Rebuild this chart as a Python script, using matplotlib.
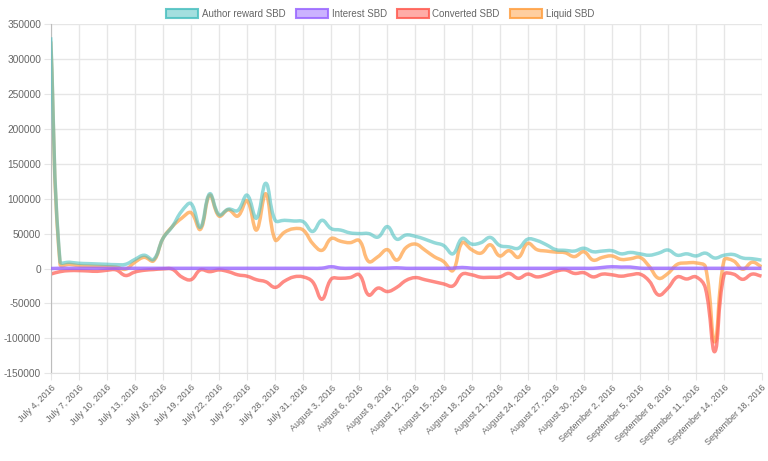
import numpy as np
import pandas as pd
import matplotlib
matplotlib.use('Agg')
import matplotlib.pyplot as plt
from matplotlib.path import Path
from matplotlib.patches import PathPatch, Patch

plt.rcParams['font.family'] = ['Liberation Sans', 'DejaVu Sans']

# daily categories
dates = pd.date_range('2016-07-04', '2016-09-18')
labels = [f"{d.strftime('%B')} {d.day}, {d.year}" for d in dates]

author_reward = [
    331000, 10000, 9000, 7500, 7000, 6500, 6000, 5500, 6000, 13000,
    19000, 13000, 43000, 60000, 82000, 93000, 59000, 107000, 77000, 85000,
    83000, 105000, 72000, 122000, 69000, 69000, 68000, 67000, 53000, 69000,
    57000, 55000, 51000, 50000, 50000, 45000, 60000, 42000, 48000, 46000,
    42000, 37000, 33000, 21000, 43000, 35000, 37000, 44500, 33000, 31000,
    29000, 42000, 40000, 34000, 27000, 26000, 25000, 29000, 24000, 25000,
    25500, 21000, 23000, 21000, 19000, 22000, 26500, 19000, 21000, 18000,
    22000, 15000, 19000, 20000, 15000, 14000, 12000,
]
interest = [
    0, 300, 300, 300, 300, 300, 300, 300, 300, 300,
    300, 300, 300, 300, 300, 300, 300, 300, 300, 300,
    300, 300, 300, 300, 300, 300, 300, 300, 300, 500,
    2500, 500, 300, 300, 300, 300, 500, 1000, 300, 300,
    300, 300, 300, 500, 1500, 500, 300, 300, 300, 300,
    300, 300, 300, 300, 300, 300, 300, 300, 300, 1500,
    2500, 2000, 2000, 500, 300, 300, 300, 300, 300, 300,
    300, 300, 300, 300, 300, 300, 300,
]
converted = [
    -8000, -4500, -3000, -3000, -3500, -4000, -2500, -2000, -10000, -5000,
    -2500, -1500, -500, -1000, -12000, -16000, -2000, -4500, -2000, -4500,
    -9000, -11000, -16000, -19000, -27000, -18000, -12000, -12000, -19000, -44000,
    -15000, -14000, -13000, -9000, -38000, -28000, -33000, -27000, -17000, -13000,
    -16000, -19000, -22000, -25000, -8000, -9000, -12500, -12500, -12000, -7000,
    -14000, -8000, -12000, -9000, -4000, -2000, -7000, -6000, -12000, -8000,
    -9000, -11000, -9000, -8000, -18000, -38000, -28000, -12000, -15000, -12000,
    -28000, -119000, -9000, -8000, -15500, -8000, -11000,
]
liquid = [
    325000, 6000, 6000, 4000, 3500, 3000, 2500, 2000, -1000, 9000,
    16000, 11000, 43000, 60000, 72000, 80000, 56000, 105000, 75000, 84000,
    75000, 97000, 55000, 107000, 41000, 52000, 57000, 55000, 36000, 26000,
    43000, 39000, 37000, 40000, 10000, 17000, 27000, 12000, 30000, 35000,
    26500, 17000, 10000, -3000, 37000, 27000, 22000, 34000, 18000, 25500,
    16000, 36000, 27000, 25000, 23500, 22600, 17000, 24000, 12000, 16000,
    18000, 13000, 14000, 16000, 3000, -14000, -7000, 6000, 8000, 8000,
    2500, -105000, 12000, 11000, -1000, 9000, 2500,
]

series = [
    ('Author reward SBD', author_reward, (75/255, 192/255, 192/255), 0.6, 4),
    ('Interest SBD', interest, (153/255, 102/255, 255/255), 0.8, 3),
    ('Converted SBD', converted, (255/255, 90/255, 80/255), 0.7, 2),
    ('Liquid SBD', liquid, (255/255, 159/255, 64/255), 0.7, 1),
]


def spline_path(y, sx=9.34, sy=0.000698, t=0.4):
    # cubic bezier through the points, like chart.js tension 0.4
    px = np.arange(len(y), dtype=float) * sx
    py = np.asarray(y, dtype=float) * sy
    n = len(px)
    cp_prev = np.zeros((n, 2))
    cp_next = np.zeros((n, 2))
    for i in range(n):
        a, c = max(i - 1, 0), min(i + 1, n - 1)
        d01 = np.hypot(px[i] - px[a], py[i] - py[a])
        d12 = np.hypot(px[c] - px[i], py[c] - py[i])
        tot = d01 + d12
        s01 = d01 / tot if tot else 0
        s12 = d12 / tot if tot else 0
        dx, dy = px[c] - px[a], py[c] - py[a]
        cp_prev[i] = (px[i] - t * s01 * dx, py[i] - t * s01 * dy)
        cp_next[i] = (px[i] + t * s12 * dx, py[i] + t * s12 * dy)
    verts = [(px[0], py[0])]
    codes = [Path.MOVETO]
    for i in range(n - 1):
        verts += [tuple(cp_next[i]), tuple(cp_prev[i + 1]), (px[i + 1], py[i + 1])]
        codes += [Path.CURVE4] * 3
    verts = np.array(verts)
    verts[:, 0] /= sx
    verts[:, 1] /= sy
    return Path(verts, codes)


fig = plt.figure(figsize=(7.68, 4.61), dpi=100)
ax = fig.add_axes([50.7 / 768, 1 - 373.3 / 461, (761.5 - 50.7) / 768, (373.3 - 24) / 461])

handles = []
for name, vals, col, alpha, z in series:
    ax.add_patch(PathPatch(spline_path(vals), fill=False, edgecolor=col + (alpha,),
                           linewidth=2.5, zorder=z, capstyle='butt', joinstyle='round'))
    handles.append(Patch(facecolor=col + (0.5,), edgecolor=col + (0.85,), linewidth=1.5, label=name))

ax.set_xlim(0, len(dates) - 1)
ax.set_ylim(-150000, 350000)

tick_idx = list(range(0, len(dates) - 3, 3)) + [len(dates) - 1]
ax.set_xticks(tick_idx)
ax.set_xticklabels([labels[i] for i in tick_idx], rotation=45, ha='right',
                   rotation_mode='anchor', fontsize=6.5, color='#666666')
ax.set_yticks(np.arange(-150000, 350001, 50000))
ax.set_yticklabels([str(v) for v in range(-150000, 350001, 50000)], fontsize=7.3, color='#666666')

ax.grid(True, color='#e6e6e6', linewidth=1)
ax.set_axisbelow(True)
ax.tick_params(axis='both', length=5, color='#e6e6e6', pad=2)
for s in ['top', 'right']:
    ax.spines[s].set_visible(False)
ax.spines['left'].set_color('#bdbdbd')
ax.spines['bottom'].set_color('#e0e0e0')

fig.legend(handles=handles, loc='upper center', bbox_to_anchor=(0.495, 1.0), ncol=4,
           frameon=False, fontsize=7.0, handlelength=3.3, handleheight=1.1,
           handletextpad=0.4, columnspacing=1.0, labelcolor='#666666')

fig.savefig('out.png', dpi=100)
